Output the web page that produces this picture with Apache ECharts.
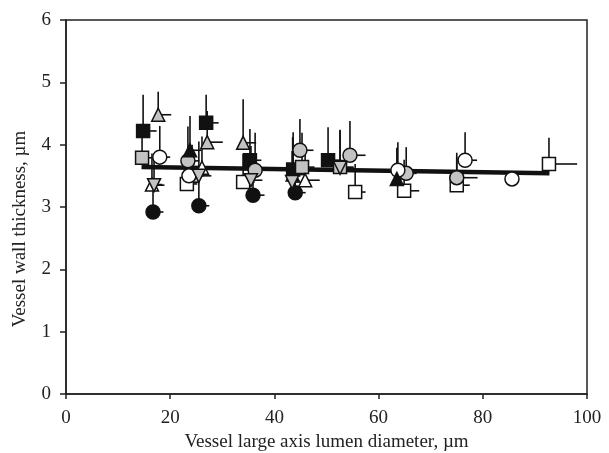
<!DOCTYPE html>
<html>
<head>
<meta charset="utf-8">
<script src="https://cdn.jsdelivr.net/npm/echarts@6/dist/echarts.min.js"></script>
<style>
  html, body { margin: 0; padding: 0; background: #fff; }
  #chart { width: 609px; height: 453px; }
</style>
</head>
<body>
<div id="chart"></div>
<script>
// each point: [x, y, errX (right), errY (up)]
const blackSquare = [[14.8, 4.22, 2.6, 0.58], [26.9, 4.35, 2.4, 0.45], [35.3, 3.75, 2.2, 0.5], [43.6, 3.6, 2.0, 0.6], [50.3, 3.75, 2.5, 0.53]]
const graySquare = [[14.6, 3.79, 2.0, 0.4], [24.2, 3.5, 2.2, 0.5], [45.3, 3.64, 2.4, 0.55], [52.6, 3.64, 2.6, 0.6]]
const whiteSquare = [[23.2, 3.37, 2.0, 0.4], [34.0, 3.4, 2.2, 0.45], [55.5, 3.24, 2.0, 0.45], [64.9, 3.26, 2.9, 0.5], [75.0, 3.35, 2.5, 0.45], [92.7, 3.69, 5.4, 0.42]]
const blackCircle = [[16.7, 2.92, 2.0, 0.45], [25.5, 3.02, 2.0, 0.4], [35.9, 3.19, 2.2, 0.4], [44.0, 3.23, 2.0, 0.4]]
const grayCircle = [[23.4, 3.74, 2.2, 0.55], [36.3, 3.59, 2.4, 0.6], [44.9, 3.91, 2.6, 0.5], [54.5, 3.83, 3.0, 0.55], [65.3, 3.54, 2.0, 0.42], [75.0, 3.47, 4.0, 0.4]]
const whiteCircle = [[18.0, 3.8, 2.0, 0.5], [23.6, 3.5, 2.0, 0.5], [63.7, 3.59, 2.0, 0.45], [76.6, 3.75, 2.3, 0.45], [85.6, 3.45, 1.0, 0.05]]
const blackTriUp = [[23.8, 3.91, 2.2, 0.55], [43.5, 3.52, 2.2, 0.6], [63.5, 3.45, 2.0, 0.5]]
const grayTriUp = [[17.7, 4.48, 2.5, 0.37], [27.1, 4.04, 3.0, 0.5], [34.0, 4.03, 2.5, 0.7]]
const whiteTriUp = [[16.5, 3.36, 2.0, 0.5], [26.1, 3.63, 2.0, 0.5], [45.9, 3.43, 2.8, 0.55]]
const grayTriDown = [[16.9, 3.35, 2.0, 0.5], [25.5, 3.5, 2.4, 0.55], [35.5, 3.43, 2.2, 0.55], [43.4, 3.4, 2.4, 0.5], [52.6, 3.63, 2.6, 0.6]]
const fitLine = [[14.5, 3.64], [92.8, 3.54]]

const xTicks = [0, 20, 40, 60, 80, 100]
const yTicks = [0, 1, 2, 3, 4, 5, 6]

const BLACK = '#111'
const GRAY = '#c3c3c3'
const WHITE = '#fff'
const FONT = '"Liberation Serif", "DejaVu Serif", serif'

const groups = [
  { data: blackSquare, symbol: 'rect', fill: BLACK },
  { data: graySquare, symbol: 'rect', fill: GRAY },
  { data: whiteSquare, symbol: 'rect', fill: WHITE },
  { data: blackCircle, symbol: 'circle', fill: BLACK },
  { data: grayCircle, symbol: 'circle', fill: GRAY },
  { data: whiteCircle, symbol: 'circle', fill: WHITE },
  { data: blackTriUp, symbol: 'triangle', fill: BLACK },
  { data: grayTriUp, symbol: 'triangle', fill: GRAY },
  { data: whiteTriUp, symbol: 'triangle', fill: WHITE },
  { data: grayTriDown, symbol: 'triangle', fill: GRAY, rotate: 180 }
]

const allPoints = groups.reduce((acc, g) => acc.concat(g.data), [])

const errorSeries = {
  type: 'custom',
  z: 1,
  silent: true,
  data: allPoints,
  renderItem: (params, api) => {
    const x = api.value(0)
    const y = api.value(1)
    const c = api.coord([x, y])
    const top = api.coord([x, y + api.value(3)])
    const right = api.coord([x + api.value(2), y])
    const style = { stroke: BLACK, lineWidth: 1.6 }
    return {
      type: 'group',
      children: [
        { type: 'line', shape: { x1: c[0], y1: c[1], x2: top[0], y2: top[1] }, style },
        { type: 'line', shape: { x1: c[0], y1: c[1], x2: right[0], y2: right[1] }, style }
      ]
    }
  }
}

const markerSeries = groups.map(g => ({
  type: 'scatter',
  z: 3,
  data: g.data.map(p => [p[0], p[1]]),
  symbol: g.symbol,
  symbolSize: g.symbol === 'circle' ? 14 : 13,
  symbolRotate: g.rotate || 0,
  itemStyle: { color: g.fill, borderColor: BLACK, borderWidth: 1.5, opacity: 1 }
}))

const option = {
  animation: false,
  backgroundColor: '#fff',
  grid: {
    left: 66, right: 22, top: 20, bottom: 59,
    outerBoundsMode: 'none',
    show: true, borderColor: '#222', borderWidth: 1.5
  },
  xAxis: {
    type: 'value',
    min: xTicks[0],
    max: xTicks[xTicks.length - 1],
    interval: 20,
    name: 'Vessel large axis lumen diameter, µm',
    nameLocation: 'middle',
    nameGap: 36,
    nameTextStyle: { fontFamily: FONT, fontSize: 19, color: '#222' },
    axisLine: { lineStyle: { color: '#222', width: 1.5 } },
    axisTick: { inside: false, length: 5, lineStyle: { color: '#222', width: 1.5 } },
    axisLabel: { fontFamily: FONT, fontSize: 19, color: '#222', margin: 15 },
    splitLine: { show: false }
  },
  yAxis: {
    type: 'value',
    min: yTicks[0],
    max: yTicks[yTicks.length - 1],
    interval: 1,
    name: 'Vessel wall thickness, µm',
    nameLocation: 'middle',
    nameGap: 36,
    nameTextStyle: { fontFamily: FONT, fontSize: 19, color: '#222', padding: [0, 44, 0, 0] },
    axisLine: { lineStyle: { color: '#222', width: 1.5 } },
    axisTick: { inside: false, length: 6, lineStyle: { color: '#222', width: 1.5 } },
    axisLabel: { fontFamily: FONT, fontSize: 19, color: '#222', margin: 15 },
    splitLine: { show: false }
  },
  series: [
    errorSeries,
    {
      type: 'line',
      z: 2,
      data: fitLine,
      symbol: 'none',
      lineStyle: { color: BLACK, width: 4.5 }
    },
    ...markerSeries
  ]
}

const chart = echarts.init(document.getElementById('chart'))
chart.setOption(option)
</script>
</body>
</html>
